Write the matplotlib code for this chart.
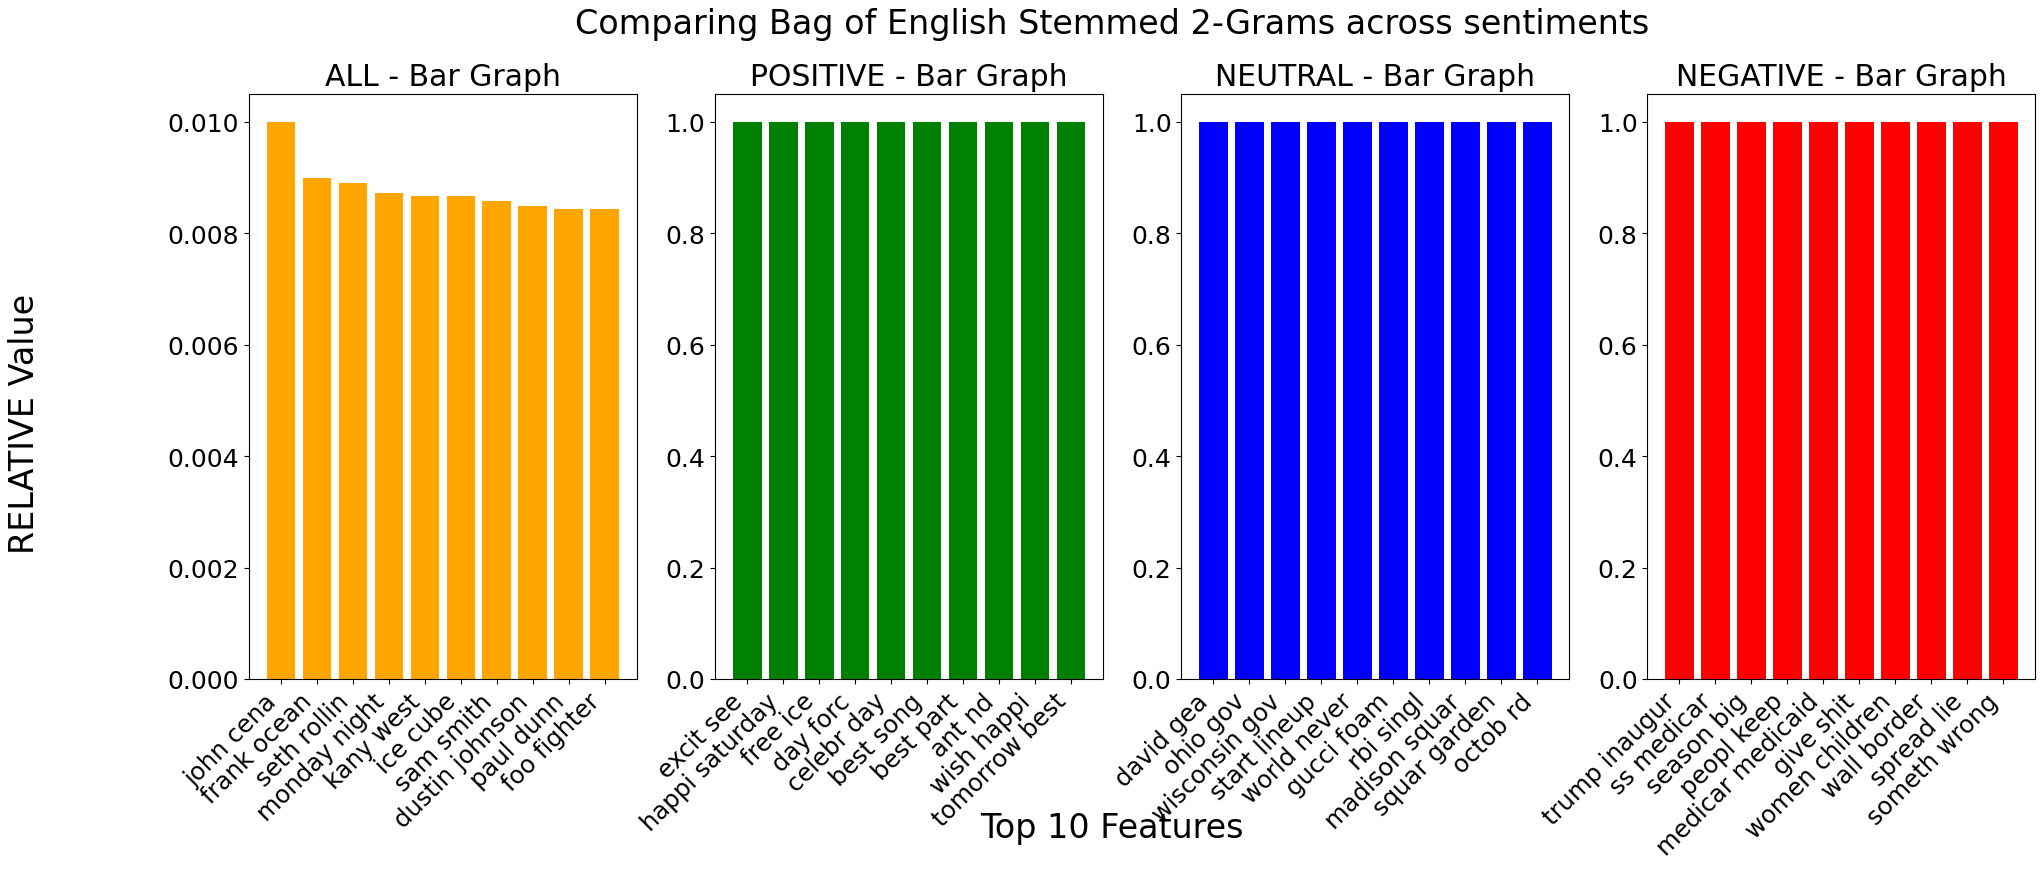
import matplotlib
matplotlib.use('Agg')
import matplotlib.pyplot as plt

sentiments = ['ALL', 'POSITIVE', 'NEUTRAL', 'NEGATIVE']
colors = ['orange', 'green', 'blue', 'red']

all_labels = ['john cena', 'frank ocean', 'seth rollin', 'monday night', 'kany west',
              'ice cube', 'sam smith', 'dustin johnson', 'paul dunn', 'foo fighter']
all_values = [0.01000, 0.00899, 0.00890, 0.00872, 0.00867,
              0.00867, 0.00858, 0.00849, 0.00844, 0.00844]

positive_labels = ['excit see', 'happi saturday', 'free ice', 'day forc', 'celebr day',
                   'best song', 'best part', 'ant nd', 'wish happi', 'tomorrow best']
positive_values = [1.0] * 10

neutral_labels = ['david gea', 'ohio gov', 'wisconsin gov', 'start lineup', 'world never',
                  'gucci foam', 'rbi singl', 'madison squar', 'squar garden', 'octob rd']
neutral_values = [1.0] * 10

negative_labels = ['trump inaugur', 'ss medicar', 'season big', 'peopl keep', 'medicar medicaid',
                   'give shit', 'women children', 'wall border', 'spread lie', 'someth wrong']
negative_values = [1.0] * 10

labels = [all_labels, positive_labels, neutral_labels, negative_labels]
values = [all_values, positive_values, neutral_values, negative_values]


def main():
    fig, axes = plt.subplots(1, 4, figsize=(20.41, 8.79), dpi=100)
    fig.subplots_adjust(left=0.122, right=0.9972, top=0.8923, bottom=0.2264, wspace=0.202)

    for i, ax in enumerate(axes):
        ax.bar(labels[i], values[i], color=colors[i])
        ax.set_title(f"{sentiments[i]} - Bar Graph", fontsize=21.5)
        ax.tick_params(axis='y', labelsize=18)
        ax.tick_params(axis='x', labelsize=17.5)
        plt.setp(ax.get_xticklabels(), rotation=45, ha='right')

    fig.text(0.545, 0.972, "Comparing Bag of English Stemmed 2-Grams across sentiments",
             fontsize=24, ha='center', va='center')
    fig.text(0.545, 0.058, "Top 10 Features", fontsize=24, ha='center', va='center')
    fig.text(0.004, 0.518, "RELATIVE Value", fontsize=24, rotation=90, ha='left', va='center')

    fig.savefig('out.png', dpi=100)

if __name__ == "__main__":
    main()
